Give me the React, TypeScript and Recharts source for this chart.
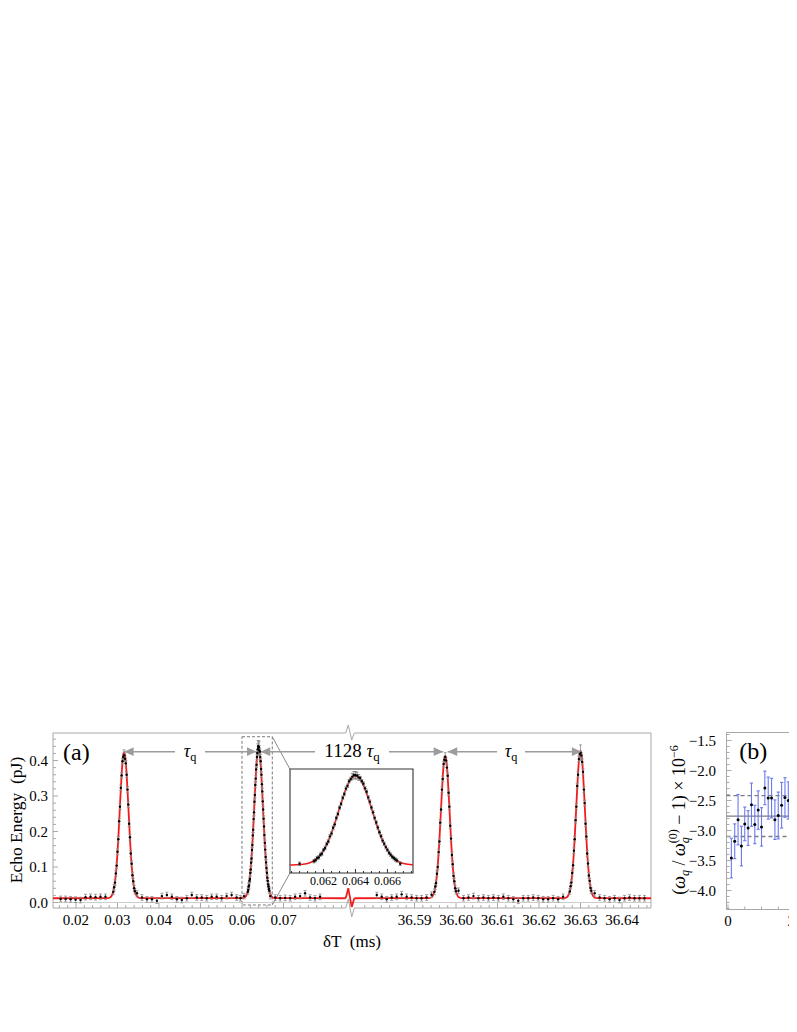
import React from "react";
import {
  ComposedChart,
  Line,
  Scatter,
  XAxis,
  YAxis,
  ErrorBar,
  ReferenceLine,
  ReferenceDot,
  ReferenceArea,
} from "recharts";

const FONT = "'Liberation Serif', 'Times New Roman', Times, serif";
const FRAME = "#a8a8a8";
const RED = "#ee1c1c";
const ERR_GRAY = "#8a8a8a";
const ARROW = "#9c9c9c";
const TICK_FS = 15;

// Broken x axis: values above 1 ms are shifted so both segments share one linear axis
const BREAK_SHIFT = 36.48843;
const toAxis = (v: number) => (v > 1 ? v - BREAK_SHIFT : v);

// ---------------- Panel (a) data: [δT (ms), echo energy (pJ), error?] ----------------
const baseBeforeP1: number[][] = [
  [0.0163, 0.010], [0.0175, 0.010], [0.0187, 0.009], [0.0199, 0.008], [0.0211, 0.007],
  [0.0223, 0.015], [0.0235, 0.016], [0.0247, 0.015], [0.0259, 0.016], [0.0271, 0.016],
];
const peak1Pts: number[][] = [
  [0.0290, 0.030], [0.0292, 0.043], [0.0294, 0.056], [0.0296, 0.082], [0.0298, 0.104],
  [0.0300, 0.143], [0.0302, 0.178], [0.0304, 0.229], [0.0306, 0.270], [0.0308, 0.323],
  [0.0310, 0.358], [0.0312, 0.398], [0.0314, 0.410], [0.0316, 0.415, 0.015], [0.0318, 0.405],
  [0.0320, 0.392], [0.0322, 0.360], [0.0324, 0.318], [0.0326, 0.276], [0.0328, 0.222],
  [0.0330, 0.184], [0.0332, 0.138], [0.0334, 0.109], [0.0336, 0.077], [0.0338, 0.060],
  [0.0340, 0.040], [0.0342, 0.032],
];
const baseP1P2: number[][] = [
  [0.0347, 0.026], [0.0359, 0.014], [0.0371, 0.009], [0.0383, 0.009], [0.0395, 0.005],
  [0.0407, 0.018], [0.0419, 0.021], [0.0431, 0.016], [0.0443, 0.009], [0.0455, 0.007],
  [0.0467, 0.012], [0.0479, 0.021], [0.0491, 0.014], [0.0503, 0.014], [0.0515, 0.012],
  [0.0527, 0.016], [0.0539, 0.016], [0.0551, 0.012], [0.0563, 0.018], [0.0575, 0.021],
  [0.0587, 0.014], [0.0596, 0.012], [0.0605, 0.018],
];
const peak2Pts: number[][] = [
  [0.0614, 0.030], [0.0615, 0.035], [0.0616, 0.045], [0.0617, 0.048], [0.0618, 0.061],
  [0.0619, 0.066], [0.0620, 0.083], [0.0621, 0.093], [0.0622, 0.112], [0.0623, 0.124],
  [0.0624, 0.148], [0.0625, 0.162], [0.0626, 0.189], [0.0627, 0.205], [0.0628, 0.235],
  [0.0629, 0.254], [0.0630, 0.284], [0.0631, 0.303], [0.0632, 0.331], [0.0633, 0.349],
  [0.0634, 0.375], [0.0635, 0.388], [0.0636, 0.410], [0.0637, 0.421], [0.0638, 0.432, 0.015],
  [0.0639, 0.440, 0.016], [0.0640, 0.438, 0.018], [0.0641, 0.437, 0.016], [0.0642, 0.428, 0.014], [0.0643, 0.425],
  [0.0644, 0.410], [0.0645, 0.398], [0.0646, 0.376], [0.0647, 0.360], [0.0648, 0.333],
  [0.0649, 0.313], [0.0650, 0.285], [0.0651, 0.262], [0.0652, 0.236], [0.0653, 0.214],
  [0.0654, 0.190], [0.0655, 0.168], [0.0656, 0.149], [0.0657, 0.128], [0.0658, 0.113],
  [0.0659, 0.097], [0.0660, 0.084], [0.0661, 0.070], [0.0662, 0.061], [0.0663, 0.051],
  [0.0664, 0.045], [0.0665, 0.038], [0.0666, 0.033],
];
const baseAfterP2: number[][] = [
  [0.0668, 0.018], [0.0680, 0.014], [0.0692, 0.012], [0.0704, 0.013], [0.0716, 0.012],
  [0.0728, 0.016], [0.0740, 0.018], [0.0752, 0.026], [0.0764, 0.014], [0.0776, 0.012],
  [0.0788, 0.016],
];
const baseBeforeP3: number[][] = [
  [36.5809, 0.021], [36.5821, 0.016], [36.5833, 0.009], [36.5845, 0.014], [36.5857, 0.016],
  [36.5869, 0.023], [36.5881, 0.016], [36.5893, 0.014], [36.5905, 0.012], [36.5917, 0.012],
  [36.5929, 0.014], [36.5941, 0.022],
];
const peak3Pts: number[][] = [
  [36.5948, 0.030], [36.5950, 0.045], [36.5952, 0.055], [36.5954, 0.081], [36.5956, 0.100],
  [36.5958, 0.142], [36.5960, 0.172], [36.5962, 0.225], [36.5964, 0.262], [36.5966, 0.318],
  [36.5968, 0.348], [36.5970, 0.390], [36.5972, 0.402], [36.5974, 0.410, 0.012], [36.5976, 0.400],
  [36.5978, 0.380], [36.5980, 0.357], [36.5982, 0.309], [36.5984, 0.270], [36.5986, 0.216],
  [36.5988, 0.180], [36.5990, 0.134], [36.5992, 0.108], [36.5994, 0.075], [36.5996, 0.060],
  [36.5998, 0.040], [36.6000, 0.032],
];
const baseP3P4: number[][] = [
  [36.6006, 0.033], [36.6018, 0.012], [36.6030, 0.014], [36.6042, 0.018], [36.6054, 0.012],
  [36.6066, 0.014], [36.6078, 0.012], [36.6090, 0.014], [36.6102, 0.012], [36.6114, 0.016],
  [36.6126, 0.012], [36.6138, 0.009], [36.6150, 0.005], [36.6162, 0.012], [36.6174, 0.012],
  [36.6186, 0.014], [36.6198, 0.012], [36.6210, 0.009], [36.6222, 0.009], [36.6234, 0.012],
  [36.6246, 0.009], [36.6258, 0.016],
];
const peak4Pts: number[][] = [
  [36.6274, 0.031], [36.6276, 0.046], [36.6278, 0.056], [36.6280, 0.083], [36.6282, 0.105],
  [36.6284, 0.146], [36.6286, 0.178], [36.6288, 0.232], [36.6290, 0.270], [36.6292, 0.328],
  [36.6294, 0.360], [36.6296, 0.404], [36.6298, 0.418], [36.6300, 0.422, 0.022], [36.6302, 0.414],
  [36.6304, 0.396], [36.6306, 0.368], [36.6308, 0.318], [36.6310, 0.280], [36.6312, 0.222],
  [36.6314, 0.186], [36.6316, 0.138], [36.6318, 0.110], [36.6320, 0.076], [36.6322, 0.061],
  [36.6324, 0.041], [36.6326, 0.033],
];
const baseAfterP4: number[][] = [
  [36.6334, 0.026], [36.6346, 0.014], [36.6358, 0.012], [36.6370, 0.009], [36.6382, 0.012],
  [36.6394, 0.007], [36.6406, 0.012], [36.6418, 0.014], [36.6430, 0.012], [36.6442, 0.012],
  [36.6454, 0.012],
];

// fitted curve (red), left and right of the axis break
const fitLeft: number[][] = [
  [0.0144, 0.012],
  [0.0276, 0.0123], [0.0282, 0.0142], [0.0286, 0.019], [0.0290, 0.031], [0.0294, 0.058],
  [0.0298, 0.107], [0.0302, 0.181], [0.0306, 0.274], [0.0310, 0.362], [0.0313, 0.408],
  [0.0316, 0.424], [0.0319, 0.408], [0.0322, 0.362], [0.0326, 0.274], [0.0330, 0.181],
  [0.0334, 0.107], [0.0338, 0.058], [0.0342, 0.031], [0.0346, 0.019], [0.0350, 0.0142],
  [0.0356, 0.0123],
  [0.0600, 0.0123], [0.0606, 0.0142], [0.0610, 0.019], [0.0614, 0.032], [0.0618, 0.059],
  [0.0622, 0.110], [0.0626, 0.186], [0.0630, 0.281], [0.0634, 0.372], [0.0637, 0.419],
  [0.0640, 0.436], [0.0643, 0.419], [0.0646, 0.372], [0.0650, 0.281], [0.0654, 0.186],
  [0.0658, 0.110], [0.0662, 0.059], [0.0666, 0.032], [0.0670, 0.019], [0.0674, 0.0142],
  [0.0680, 0.0123],
  [0.0850, 0.012],
];
const fitRight: number[][] = [
  [36.5755, 0.012],
  [36.5934, 0.0123], [36.5940, 0.0141], [36.5944, 0.0188], [36.5948, 0.031], [36.5952, 0.057],
  [36.5956, 0.104], [36.5960, 0.177], [36.5964, 0.267], [36.5968, 0.353], [36.5971, 0.398],
  [36.5974, 0.414], [36.5977, 0.398], [36.5980, 0.353], [36.5984, 0.267], [36.5988, 0.177],
  [36.5992, 0.104], [36.5996, 0.057], [36.6000, 0.031], [36.6004, 0.0188], [36.6008, 0.0141],
  [36.6014, 0.0123],
  [36.6260, 0.0123], [36.6266, 0.0142], [36.6270, 0.019], [36.6274, 0.031], [36.6278, 0.058],
  [36.6282, 0.108], [36.6286, 0.183], [36.6290, 0.276], [36.6294, 0.365], [36.6297, 0.411],
  [36.6300, 0.428], [36.6303, 0.411], [36.6306, 0.365], [36.6310, 0.276], [36.6314, 0.183],
  [36.6318, 0.108], [36.6322, 0.058], [36.6326, 0.031], [36.6330, 0.019], [36.6334, 0.0142],
  [36.6340, 0.0123],
  [36.6470, 0.012],
];

// tick labels
const xMajorLeft = [0.02, 0.03, 0.04, 0.05, 0.06, 0.07];
const xMajorRight = [36.59, 36.6, 36.61, 36.62, 36.63, 36.64];
const yMajorA = [0, 0.1, 0.2, 0.3, 0.4];
const insetMajor = [0.062, 0.064, 0.066];

// ---------------- Panel (b) data ----------------
const bIndex = [1, 2, 3, 4, 5, 6, 7, 8, 9, 10, 11, 12, 13, 14, 15, 16, 17, 18, 19, 20];
const bValue = [-3.46, -3.18, -2.82, -3.26, -2.89, -2.96, -2.57, -2.9, -2.66, -2.94, -2.29, -2.46, -2.46, -2.82, -2.75, -2.58, -2.45, -2.5, -2.76, -2.22];
const bError = [0.33, 0.29, 0.42, 0.33, 0.28, 0.29, 0.36, 0.32, 0.32, 0.32, 0.28, 0.35, 0.33, 0.33, 0.39, 0.38, 0.33, 0.31, 0.33, 0.32];
const bMean = -2.76;
const bBandHigh = -2.42;
const bBandLow = -3.1;
const bYMajor = [-4.0, -3.5, -3.0, -2.5, -2.0, -1.5];
const bXMajor = [0, 20];

// ---------------- helpers ----------------
type Pt = { x: number; y: number; e: number };
const DEFAULT_ERR = 0.008;
const toPts = (rows: number[][]): Pt[] =>
  rows.map((r) => ({ x: toAxis(r[0]), y: r[1], e: r[2] !== undefined ? r[2] : DEFAULT_ERR }));
const toLine = (rows: number[][]) => rows.map((r) => ({ x: toAxis(r[0]), y: r[1] }));

const ptsA: Pt[] = [
  ...toPts(baseBeforeP1), ...toPts(peak1Pts), ...toPts(baseP1P2), ...toPts(peak2Pts), ...toPts(baseAfterP2),
  ...toPts(baseBeforeP3), ...toPts(peak3Pts), ...toPts(baseP3P4), ...toPts(peak4Pts), ...toPts(baseAfterP4),
];
const fitLeftData = toLine(fitLeft);
const fitRightData = toLine(fitRight);

const bData = bIndex.map((x, i) => ({ x, y: bValue[i], e: bError[i] }));

type TickInfo = { pos: number; major: boolean; label: string | null };

const xTicksA: TickInfo[] = [];
for (let k = 8; k <= 42; k++) {
  const v = k * 0.002;
  const isMajor = xMajorLeft.some((m) => Math.abs(m - v) < 1e-9);
  xTicksA.push({ pos: toAxis(v), major: isMajor, label: isMajor ? v.toFixed(2) : null });
}
for (let k = 39; k <= 73; k++) {
  const v = 36.5 + k * 0.002;
  const isMajor = xMajorRight.some((m) => Math.abs(m - v) < 1e-9);
  xTicksA.push({ pos: toAxis(v), major: isMajor, label: isMajor ? v.toFixed(2) : null });
}
const yTicksA: TickInfo[] = [];
for (let k = 0; k <= 23; k++) {
  const v = k * 0.02;
  const isMajor = yMajorA.some((m) => Math.abs(m - v) < 1e-9);
  yTicksA.push({ pos: v, major: isMajor, label: isMajor ? v.toFixed(1) : null });
}
const insetTicks: TickInfo[] = [];
for (let k = 0; k <= 15; k++) {
  const v = 0.06 + k * 0.0005;
  const isMajor = insetMajor.some((m) => Math.abs(m - v) < 1e-9);
  insetTicks.push({ pos: v, major: isMajor, label: isMajor ? v.toFixed(3) : null });
}
const bYTicks: TickInfo[] = [];
for (let k = 14; k <= 43; k++) {
  const v = -k * 0.1;
  const isMajor = bYMajor.some((m) => Math.abs(m - v) < 1e-9);
  bYTicks.push({ pos: v, major: isMajor, label: isMajor ? "\u2212" + Math.abs(v).toFixed(1) : null });
}
const bXTicks: TickInfo[] = [];
for (let k = 0; k <= 6; k++) {
  const v = k * 5;
  const isMajor = bXMajor.includes(v);
  bXTicks.push({ pos: v, major: isMajor, label: isMajor ? String(v) : null });
}

const findTick = (list: TickInfo[], v: number) => list.find((t) => Math.abs(t.pos - v) < 1e-7);

type Side = "bottom" | "top" | "left" | "right";
const makeTick =
  (list: TickInfo[], side: Side, color: string, majorLen: number, minorLen: number, fontSize: number, labelOff: number) =>
  (p: any) => {
    const info = findTick(list, p.payload.value);
    if (!info) return <g />;
    const len = info.major ? majorLen : minorLen;
    const x = p.x;
    const y = p.y;
    let line: React.ReactNode = null;
    let text: React.ReactNode = null;
    if (side === "bottom") line = <line x1={x} x2={x} y1={y} y2={y - len} stroke={color} strokeWidth={1} />;
    if (side === "top") line = <line x1={x} x2={x} y1={y} y2={y + len} stroke={color} strokeWidth={1} />;
    if (side === "left") line = <line x1={x} x2={x + len} y1={y} y2={y} stroke={color} strokeWidth={1} />;
    if (side === "right") line = <line x1={x} x2={x - len} y1={y} y2={y} stroke={color} strokeWidth={1} />;
    if (info.label && side === "bottom")
      text = (
        <text x={x} y={y + labelOff} textAnchor="middle" fontSize={fontSize} fontFamily={FONT} fill="#000">
          {info.label}
        </text>
      );
    if (info.label && side === "left")
      text = (
        <text x={x - labelOff} y={y + fontSize * 0.35} textAnchor="end" fontSize={fontSize} fontFamily={FONT} fill="#000">
          {info.label}
        </text>
      );
    return (
      <g>
        {line}
        {text}
      </g>
    );
  };

const dotShape = (r: number) => (p: any) => <circle cx={p.cx} cy={p.cy} r={r} fill="#000" />;

const arrowHead = (dir: "left" | "right") => (p: any) => {
  const { cx, cy } = p;
  const L = 9.5;
  const H = 4.3;
  const pts =
    dir === "left"
      ? `${cx},${cy} ${cx + L},${cy - H} ${cx + L},${cy + H}`
      : `${cx},${cy} ${cx - L},${cy - H} ${cx - L},${cy + H}`;
  return <polygon points={pts} fill={ARROW} />;
};

const tauLabel = (prefix: string, gap: number, fs: number) => (p: any) => (
  <g>
    <rect x={p.cx - gap / 2} y={p.cy - 9} width={gap} height={18} fill="#fff" />
    <text x={p.cx} y={p.cy + 5} textAnchor="middle" fontSize={fs} fontFamily={FONT} fill="#000">
      {prefix}
      <tspan fontStyle="italic">τ</tspan>
      <tspan fontSize={fs * 0.68} dy={4}>
        q
      </tspan>
    </text>
  </g>
);

const panelLabel = (txt: string, fs: number) => (p: any) => (
  <text x={p.cx} y={p.cy + fs * 0.33} textAnchor="middle" fontSize={fs} fontFamily={FONT} fill="#000">
    {txt}
  </text>
);

// ---------------- panel (a) geometry in axis units ----------------
const XMIN = 0.01446;
const XMAX = 0.15855;
const YMIN = -0.0155;
const YMAX = 0.4775;
const ZX = [0.08499, 0.08562, 0.08644, 0.08706];
type Seg = [{ x: number; y: number }, { x: number; y: number }];
const seg = (x1: number, y1: number, x2: number, y2: number): Seg => [
  { x: x1, y: y1 },
  { x: x2, y: y2 },
];
const frameA: Seg[] = [
  seg(XMIN, YMIN, XMIN, YMAX),
  seg(XMAX, YMIN, XMAX, YMAX),
  seg(XMIN, YMAX, ZX[0], YMAX),
  seg(ZX[0], YMAX, ZX[1], 0.5),
  seg(ZX[1], 0.5, ZX[2], 0.4577),
  seg(ZX[2], 0.4577, ZX[3], YMAX),
  seg(ZX[3], YMAX, XMAX, YMAX),
  seg(XMIN, YMIN, ZX[0], YMIN),
  seg(ZX[0], YMIN, ZX[1], 0.0099),
  seg(ZX[1], 0.0099, ZX[2], -0.0408),
  seg(ZX[2], -0.0408, ZX[3], YMIN),
  seg(ZX[3], YMIN, XMAX, YMIN),
];
const redBreak: Seg[] = [
  seg(ZX[0], 0.012, ZX[1], 0.04),
  seg(ZX[1], 0.04, ZX[2], -0.013),
  seg(ZX[2], -0.013, ZX[3], 0.012),
];
const BOX = { x1: 0.06, x2: 0.0673, y1: -0.007, y2: 0.467 };
const INSET_LEFT_X = 0.07157;
const connectors: Seg[] = [seg(BOX.x2, BOX.y2, INSET_LEFT_X, 0.3752), seg(BOX.x2, BOX.y1, INSET_LEFT_X, 0.0834)];

const ARROW_Y = 0.425;
const arrows = [
  { from: 0.0316, to: 0.0635 },
  { from: 0.0645, to: 36.5969 },
  { from: 36.598, to: 36.6302 },
];

function PanelA() {
  return (
    <ComposedChart width={660} height={250} margin={{ top: 33, right: 17, bottom: 0, left: 0 }}>
      <XAxis
        type="number"
        dataKey="x"
        domain={[XMIN, XMAX]}
        allowDataOverflow
        ticks={xTicksA.map((t) => t.pos)}
        interval={0}
        tickSize={0}
        tickMargin={0}
        axisLine={false}
        tickLine={false}
        height={42}
        tick={makeTick(xTicksA, "bottom", FRAME, 5, 3, TICK_FS, 17)}
      />
      <XAxis
        xAxisId="top"
        orientation="top"
        type="number"
        dataKey="x"
        domain={[XMIN, XMAX]}
        allowDataOverflow
        ticks={xTicksA.map((t) => t.pos)}
        interval={0}
        tickSize={0}
        tickMargin={0}
        axisLine={false}
        tickLine={false}
        height={0}
        tick={makeTick(xTicksA, "top", FRAME, 5, 3, TICK_FS, 0)}
      />
      <YAxis
        type="number"
        domain={[YMIN, YMAX]}
        allowDataOverflow
        ticks={yTicksA.map((t) => t.pos)}
        interval={0}
        width={45}
        tickSize={0}
        tickMargin={0}
        axisLine={false}
        tickLine={false}
        tick={makeTick(yTicksA, "left", FRAME, 5, 3, TICK_FS, 5)}
      />
      <YAxis
        yAxisId="right"
        orientation="right"
        type="number"
        domain={[YMIN, YMAX]}
        allowDataOverflow
        ticks={yTicksA.map((t) => t.pos)}
        interval={0}
        width={0}
        tickSize={0}
        tickMargin={0}
        axisLine={false}
        tickLine={false}
        tick={makeTick(yTicksA, "right", FRAME, 5, 3, TICK_FS, 0)}
      />
      <ReferenceLine y={0} stroke="#cccccc" strokeWidth={1} ifOverflow="visible" />
      {frameA.map((s, i) => (
        <ReferenceLine key={"fa" + i} segment={s} stroke={FRAME} strokeWidth={1} ifOverflow="visible" />
      ))}
      <ReferenceArea
        x1={BOX.x1}
        x2={BOX.x2}
        y1={BOX.y1}
        y2={BOX.y2}
        fill="none"
        fillOpacity={0}
        stroke="#7a7a7a"
        strokeWidth={1}
        strokeDasharray="3 2"
        ifOverflow="visible"
      />
      {connectors.map((s, i) => (
        <ReferenceLine key={"cn" + i} segment={s} stroke="#8a8a8a" strokeWidth={1} ifOverflow="visible" />
      ))}
      <Line data={fitLeftData} dataKey="y" type="monotone" stroke={RED} strokeWidth={1.8} dot={false} isAnimationActive={false} />
      <Line data={fitRightData} dataKey="y" type="monotone" stroke={RED} strokeWidth={1.8} dot={false} isAnimationActive={false} />
      {redBreak.map((s, i) => (
        <ReferenceLine key={"rb" + i} segment={s} stroke={RED} strokeWidth={1.8} ifOverflow="visible" />
      ))}
      <Scatter data={ptsA} dataKey="y" shape={dotShape(1.2)} isAnimationActive={false}>
        <ErrorBar dataKey="e" direction="y" width={1.5} stroke={ERR_GRAY} strokeWidth={0.8} />
      </Scatter>
      {arrows.map((a, i) => (
        <ReferenceLine
          key={"al" + i}
          segment={seg(toAxis(a.from), ARROW_Y, toAxis(a.to), ARROW_Y)}
          stroke={ARROW}
          strokeWidth={1.5}
          ifOverflow="visible"
        />
      ))}
      {arrows.map((a, i) => (
        <ReferenceDot key={"ah" + i} x={toAxis(a.from)} y={ARROW_Y} r={0} shape={arrowHead("left")} ifOverflow="visible" />
      ))}
      {arrows.map((a, i) => (
        <ReferenceDot key={"at" + i} x={toAxis(a.to)} y={ARROW_Y} r={0} shape={arrowHead("right")} ifOverflow="visible" />
      ))}
      <ReferenceDot x={0.04747} y={ARROW_Y} r={0} shape={tauLabel("", 30, 18)} ifOverflow="visible" />
      <ReferenceDot x={0.08651} y={ARROW_Y} r={0} shape={tauLabel("1128 ", 74, 19)} ifOverflow="visible" />
      <ReferenceDot x={0.12482} y={ARROW_Y} r={0} shape={tauLabel("", 28, 18)} ifOverflow="visible" />
      <ReferenceDot x={0.0201} y={ARROW_Y} r={0} shape={panelLabel("(a)", 24)} ifOverflow="visible" />
    </ComposedChart>
  );
}

// ---------------- inset ----------------
const IXMIN = 0.0599;
const IXMAX = 0.0676;
const IYMIN = -0.026;
const IYMAX = 0.468;
const insetPts = ptsA.filter((p) => p.x >= IXMIN && p.x <= IXMAX);

function Inset() {
  return (
    <ComposedChart width={140} height={135} margin={{ top: 9, right: 7, bottom: 0, left: 10 }}>
      <XAxis
        type="number"
        dataKey="x"
        domain={[IXMIN, IXMAX]}
        allowDataOverflow
        ticks={insetTicks.map((t) => t.pos)}
        interval={0}
        tickSize={0}
        tickMargin={0}
        axisLine={false}
        tickLine={false}
        height={22}
        tick={makeTick(insetTicks, "bottom", "#333", 4, 2, 12, 12)}
      />
      <XAxis
        xAxisId="top"
        orientation="top"
        type="number"
        dataKey="x"
        domain={[IXMIN, IXMAX]}
        allowDataOverflow
        ticks={insetTicks.map((t) => t.pos)}
        interval={0}
        tickSize={0}
        tickMargin={0}
        axisLine={false}
        tickLine={false}
        height={0}
        tick={makeTick(insetTicks, "top", "#333", 4, 2, 12, 0)}
      />
      <YAxis hide type="number" domain={[IYMIN, IYMAX]} allowDataOverflow />
      <ReferenceArea
        x1={IXMIN}
        x2={IXMAX}
        y1={IYMIN}
        y2={IYMAX}
        fill="none"
        fillOpacity={0}
        stroke="#333"
        strokeWidth={1.1}
        ifOverflow="visible"
      />
      <Line data={fitLeftData} dataKey="y" type="monotone" stroke={RED} strokeWidth={1.6} dot={false} isAnimationActive={false} />
      <Scatter data={insetPts} dataKey="y" shape={dotShape(1.2)} isAnimationActive={false}>
        <ErrorBar dataKey="e" direction="y" width={1.5} stroke="#777" strokeWidth={0.8} />
      </Scatter>
    </ComposedChart>
  );
}

// ---------------- panel (b) ----------------
const BXMIN = -0.45;
const BXMAX = 33.43;
const BYMIN = -4.317;
const BYMAX = -1.367;
const frameB: Seg[] = [seg(BXMIN, BYMIN, BXMIN, BYMAX), seg(BXMIN, BYMAX, BXMAX, BYMAX), seg(BXMIN, BYMIN, BXMAX, BYMIN)];

function PanelB() {
  return (
    <ComposedChart width={200} height={250} margin={{ top: 32.5, right: 0, bottom: 0, left: 0 }}>
      <XAxis
        type="number"
        dataKey="x"
        domain={[BXMIN, BXMAX]}
        allowDataOverflow
        ticks={bXTicks.map((t) => t.pos)}
        interval={0}
        tickSize={0}
        tickMargin={0}
        axisLine={false}
        tickLine={false}
        height={40.5}
        tick={makeTick(bXTicks, "bottom", FRAME, 5, 3, TICK_FS, 16)}
      />
      <XAxis
        xAxisId="top"
        orientation="top"
        type="number"
        dataKey="x"
        domain={[BXMIN, BXMAX]}
        allowDataOverflow
        ticks={bXTicks.map((t) => t.pos)}
        interval={0}
        tickSize={0}
        tickMargin={0}
        axisLine={false}
        tickLine={false}
        height={0}
        tick={makeTick(bXTicks, "top", FRAME, 5, 3, TICK_FS, 0)}
      />
      <YAxis
        type="number"
        domain={[BYMIN, BYMAX]}
        allowDataOverflow
        ticks={bYTicks.map((t) => t.pos)}
        interval={0}
        width={86.5}
        tickSize={0}
        tickMargin={0}
        axisLine={false}
        tickLine={false}
        tick={makeTick(bYTicks, "left", FRAME, 5, 3, TICK_FS, 10.5)}
      />
      {frameB.map((s, i) => (
        <ReferenceLine key={"fb" + i} segment={s} stroke={FRAME} strokeWidth={1} ifOverflow="visible" />
      ))}
      <ReferenceLine y={bMean} stroke="#7d7d7d" strokeWidth={1.4} ifOverflow="visible" />
      <ReferenceLine y={bBandHigh} stroke="#7d7d7d" strokeWidth={1.3} strokeDasharray="4 3" ifOverflow="visible" />
      <ReferenceLine y={bBandLow} stroke="#7d7d7d" strokeWidth={1.3} strokeDasharray="4 3" ifOverflow="visible" />
      <Scatter data={bData} dataKey="y" shape={dotShape(1.5)} isAnimationActive={false}>
        <ErrorBar dataKey="e" direction="y" width={1.6} stroke="#6a79ee" strokeWidth={1.1} />
      </Scatter>
      <ReferenceDot x={7.5} y={-1.675} r={0} shape={panelLabel("(b)", 24)} ifOverflow="visible" />
    </ComposedChart>
  );
}

// ---------------- page (wrapper covers the whole window, so positions below are window pixels) ----------------
export default function App() {
  return (
    <div
      style={{
        position: "relative",
        marginLeft: -8,
        marginTop: -8,
        width: 797,
        height: 1000,
        overflow: "hidden",
        background: "#fff",
      }}
    >
      <div style={{ position: "absolute", left: 8, top: 700 }}>
        <PanelA />
      </div>
      <div style={{ position: "absolute", left: 290, top: 769, width: 123, height: 104, background: "#fff" }} />
      <div style={{ position: "absolute", left: 280, top: 760 }}>
        <Inset />
      </div>
      <div style={{ position: "absolute", left: 640, top: 700 }}>
        <PanelB />
      </div>
      <svg width={797} height={1000} style={{ position: "absolute", left: 0, top: 0, pointerEvents: "none" }}>
        <text transform="translate(21.5,820) rotate(-90)" textAnchor="middle" fontSize={17.5} fontFamily={FONT} fill="#000">
          Echo Energy{"\u00a0\u00a0"}(pJ)
        </text>
        <text x={352} y={947} textAnchor="middle" fontSize={17} fontFamily={FONT} fill="#000">
          δT{"\u00a0\u00a0"}(ms)
        </text>
        <text transform="translate(685,820) rotate(-90)" textAnchor="middle" fontSize={18} fontFamily={FONT} fill="#000">
          <tspan>(</tspan>
          <tspan fontStyle="italic">ω</tspan>
          <tspan fontSize={12} fontStyle="italic" dy={4}>
            q
          </tspan>
          <tspan dy={-4}>{"\u00a0/\u00a0"}</tspan>
          <tspan fontStyle="italic">ω</tspan>
          <tspan fontSize={12} fontStyle="italic" dy={4}>
            q
          </tspan>
          <tspan fontSize={12} dx={-6} dy={-12}>
            (0)
          </tspan>
          <tspan dy={8}>{"\u00a0\u2212\u00a01)\u00a0×\u00a010"}</tspan>
          <tspan fontSize={12} dy={-7}>
            −6
          </tspan>
        </text>
      </svg>
    </div>
  );
}
